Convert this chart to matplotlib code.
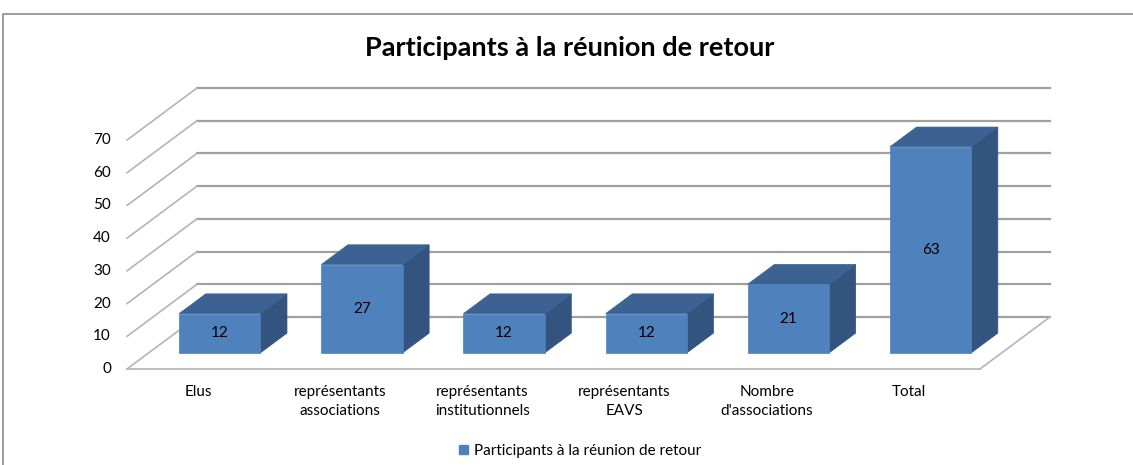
import matplotlib.pyplot as plt
from matplotlib.patches import Polygon, Patch

# Données du graphique
categories = ['Elus', 'représentants\nassociations', 'représentants\ninstitutionnels',
              'représentants\nEAVS', 'Nombre\nd\'associations', 'Total']
valeurs = [12, 27, 12, 12, 21, 63]
graduations = [0, 10, 20, 30, 40, 50, 60, 70]
titre = 'Participants à la réunion de retour'

plt.rcParams['font.family'] = ['Lato', 'DejaVu Sans']

FACE = '#4F81BD'
DESSUS = '#3B6292'
COTE = '#32547F'
GRILLE = '#A0A0A0'
TAILLE = 11

# Profondeur oblique (en unités de données) : décalage x et y du fond
PROF_X = 0.492
PROF_Y = 15.9
D0, D1 = 0.31, 0.69      # position avant/arrière des barres dans la profondeur
LARGEUR = 1 / 1.75       # largeur d'écart 75 %


def proj(x, y, d):
    """Projection oblique d'un point (x, y) placé à la profondeur d."""
    return (x + d * PROF_X, y + d * PROF_Y)


fig = plt.figure(figsize=(11.33, 4.65), dpi=100)
ax = fig.add_axes([0, 0, 1, 1])
px_x = 142.17   # pixels par catégorie
px_y = 3.271    # pixels par unité
ax.set_xlim(-127 / px_x, (1133 - 127) / px_x)
ax.set_ylim((369 - 465) / px_y, 369 / px_y)
ax.axis('off')

n = len(categories)

# cadre du graphique
fig.patches.append(plt.Rectangle((3 / 1133, -0.1), 1.2, 1 - 14 / 465 + 0.1,
                                 transform=fig.transFigure, fill=False,
                                 edgecolor='#8C8C8C', lw=1.2))

# paroi du fond et paroi latérale
for g in graduations:
    xa, ya = proj(0, g, 1)
    xb, yb = proj(n, g, 1)
    ax.plot([xa, xb], [ya, yb], color=GRILLE, lw=1.6, zorder=1)
    x0, y0 = proj(0, g, 0)
    ax.plot([x0, xa], [y0, ya], color='#B4B4B4', lw=1.2, zorder=1)
    ax.text(x0 - 16 / px_x, y0, str(g), ha='right', va='center', fontsize=TAILLE)

# plancher
xa, ya = proj(0, 0, 0)
xb, yb = proj(n, 0, 0)
ax.plot([xa, xb], [ya, yb], color='#B4B4B4', lw=1.2, zorder=1)
xc, yc = proj(n, 0, 1)
ax.plot([xb, xc], [yb, yc], color='#B4B4B4', lw=1.2, zorder=1)

# barres en pseudo-3D
for i, v in enumerate(valeurs):
    gauche = i + 0.5 - LARGEUR / 2
    droite = i + 0.5 + LARGEUR / 2
    face = [proj(gauche, 0, D0), proj(droite, 0, D0), proj(droite, v, D0), proj(gauche, v, D0)]
    dessus = [proj(gauche, v, D0), proj(droite, v, D0), proj(droite, v, D1), proj(gauche, v, D1)]
    cote = [proj(droite, 0, D0), proj(droite, 0, D1), proj(droite, v, D1), proj(droite, v, D0)]
    ax.add_patch(Polygon(cote, closed=True, facecolor=COTE, edgecolor=COTE, lw=0.5, zorder=3))
    ax.add_patch(Polygon(dessus, closed=True, facecolor=DESSUS, edgecolor=DESSUS, lw=0.5, zorder=3))
    ax.add_patch(Polygon(face, closed=True, facecolor=FACE, edgecolor=FACE, lw=0.5, zorder=4))
    cx, cy = proj(i + 0.5, v / 2, D0)
    ax.text(cx, cy, str(v), ha='center', va='center', fontsize=TAILLE, zorder=5)

    # étiquette de catégorie
    lx, ly = proj(i + 0.5, 0, 0)
    ax.text(lx, ly - 16 / px_y, categories[i], ha='center', va='top', fontsize=TAILLE,
            linespacing=1.45)

fig.text(0.503, 1 - 48 / 465, titre, ha='center', va='center', fontsize=19.5, fontweight='bold')

fig.legend(handles=[Patch(facecolor=FACE, edgecolor=FACE, label=titre)],
           loc='center', bbox_to_anchor=(0.512, 1 - 451 / 465), frameon=False,
           fontsize=TAILLE, handlelength=0.6, handleheight=0.6, handletextpad=0.4)

fig.savefig('out.png', dpi=100)
